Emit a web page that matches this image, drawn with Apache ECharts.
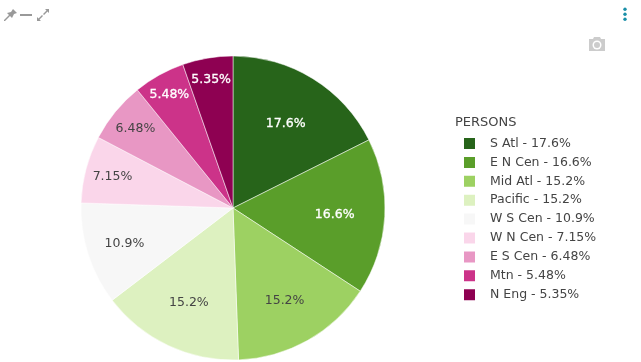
<!DOCTYPE html>
<html>
<head>
<meta charset="utf-8">
<script src="https://cdn.jsdelivr.net/npm/echarts@6/dist/echarts.min.js"></script>
<style>
html, body { margin: 0; padding: 0; background: #fff; }
#main { width: 641px; height: 362px; }
</style>
</head>
<body>
<div id="main"></div>
<script>
var categories = ['S Atl', 'E N Cen', 'Mid Atl', 'Pacific', 'W S Cen', 'W N Cen', 'E S Cen', 'Mtn', 'N Eng'];
var persons = [17.6, 16.6, 15.2, 15.2, 10.9, 7.15, 6.48, 5.48, 5.35];
var sliceColors = ['#27641a', '#5a9e2a', '#9dd162', '#ddf1c0', '#f7f7f7', '#fad6ea', '#e897c4', '#cc3389', '#8e0152'];
var labelColors = ['#fff', '#fff', '#444', '#444', '#444', '#444', '#444', '#fff', '#fff'];
// how far out each label sits, as a share of the radius
var labelRadius = [0.66, 0.67, 0.69, 0.68, 0.75, 0.82, 0.83, 0.86, 0.86];

var pieX = 233, pieY = 208, pieR = 152;
var font = 'DejaVu Sans';

var myChart = echarts.init(document.getElementById('main'));

var pieData = categories.map(function (name, i) {
    var dark = labelColors[i] === '#fff';
    return {
        name: name,
        value: persons[i],
        itemStyle: { color: sliceColors[i] },
        label: {
            color: labelColors[i],
            textBorderColor: labelColors[i],
            textBorderWidth: dark ? 0.3 : 0
        }
    };
});

var option = {
    animation: false,
    backgroundColor: '#fff',
    textStyle: { fontFamily: font },
    legend: {
        orient: 'vertical',
        left: 457,
        top: 131,
        itemWidth: 13,
        itemHeight: 13,
        itemGap: 3.9,
        icon: 'rect',
        selectedMode: false,
        data: categories,
        textStyle: { color: '#444', fontSize: 12.5, fontFamily: font, padding: [0, 0, 0, 9] },
        formatter: function (name) {
            return name + ' - ' + persons[categories.indexOf(name)] + '%';
        }
    },
    graphic: [
        { type: 'text', x: 455, y: 116, style: { text: 'PERSONS', fill: '#444', font: '13px "DejaVu Sans"' } },
        // pin
        { type: 'polygon', x: 4, y: 9, shape: { points: [[9, 0], [13, 4], [10, 5], [8, 9], [6, 7], [1, 12], [0, 12], [0, 11], [5, 6], [3, 4], [7, 3]] }, style: { fill: '#999' } },
        // minimize
        { type: 'rect', x: 20, y: 14, shape: { width: 12, height: 2 }, style: { fill: '#999' } },
        // expand
        { type: 'polygon', x: 37, y: 9, shape: { points: [[8, 0], [12, 0], [12, 4], [10.5, 2.5], [7, 6], [6, 5], [9.5, 1.5]] }, style: { fill: '#999' } },
        { type: 'polygon', x: 37, y: 9, shape: { points: [[0, 12], [0, 8], [1.5, 9.5], [5, 6], [6, 7], [2.5, 10.5], [4, 12]] }, style: { fill: '#999' } },
        // menu dots
        { type: 'circle', shape: { cx: 625, cy: 9.3, r: 1.7 }, style: { fill: '#1a8fa8' } },
        { type: 'circle', shape: { cx: 625, cy: 14.3, r: 1.7 }, style: { fill: '#1a8fa8' } },
        { type: 'circle', shape: { cx: 625, cy: 19.3, r: 1.7 }, style: { fill: '#1a8fa8' } },
        // camera
        { type: 'polygon', x: 589, y: 37, shape: { points: [[5, 0], [11, 0], [12, 2], [16, 2], [16, 14], [0, 14], [0, 2], [4, 2]] }, style: { fill: '#ccc' } },
        { type: 'circle', shape: { cx: 597, cy: 45, r: 4.5 }, style: { fill: '#fff' } },
        { type: 'circle', shape: { cx: 597, cy: 45, r: 3 }, style: { fill: '#ccc' } }
    ],
    series: [{
        type: 'pie',
        center: [pieX, pieY],
        radius: [0, pieR],
        startAngle: 90,
        clockwise: true,
        sort: false,
        silent: true,
        itemStyle: { borderColor: '#fff', borderWidth: 0.5 },
        label: {
            show: true,
            position: 'inside',
            fontSize: 12.5,
            fontFamily: font,
            formatter: '{c}%'
        },
        labelLine: { show: false },
        labelLayout: function (params) {
            var r = params.labelRect;
            var vx = r.x + r.width / 2 - pieX;
            var vy = r.y + r.height / 2 - pieY;
            var k = labelRadius[params.dataIndex] * pieR / Math.sqrt(vx * vx + vy * vy) - 1;
            return { dx: vx * k, dy: vy * k + 1 };
        },
        data: pieData
    }]
};

myChart.setOption(option);
window.onresize = myChart.resize;
</script>
</body>
</html>
